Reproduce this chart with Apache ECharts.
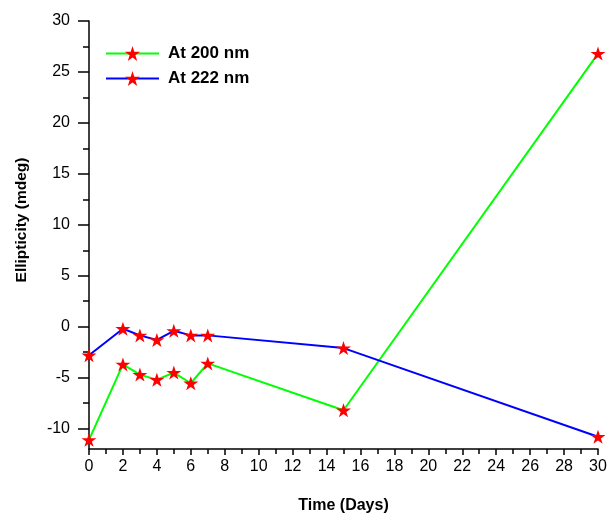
<!DOCTYPE html>
<html>
<head>
<meta charset="utf-8">
<script src="https://cdn.jsdelivr.net/npm/echarts@6/dist/echarts.min.js"></script>
<style>
  html, body { margin: 0; padding: 0; background: #fff; }
  #chart { width: 611px; height: 513px; }
</style>
</head>
<body>
<div id="chart"></div>
<script>
// 数据
const days = [0, 2, 3, 4, 5, 6, 7, 15, 30];
const at200 = [-11.1, -3.7, -4.7, -5.2, -4.5, -5.55, -3.6, -8.2, 26.8];
const at222 = [-2.8, -0.2, -0.85, -1.3, -0.4, -0.85, -0.85, -2.1, -10.8];
const yMajorTicks = [-10, -5, 0, 5, 10, 15, 20, 25, 30];
const yMinorTicks = [-7.5, -2.5, 2.5, 7.5, 12.5, 17.5, 22.5, 27.5];

const star = 'path://M100,0 L122.45,69.1 L195.1,69.1 L136.3,111.8 L158.8,180.9 L100,138.2 L41.2,180.9 L63.7,111.8 L4.9,69.1 L77.55,69.1 Z';
const font = 'Liberation Sans, Arial, sans-serif';

const pairs = (ys) => days.map((d, i) => [d, ys[i]]);

const myChart = echarts.init(document.getElementById('chart'));

const options = {
  animation: false,
  grid: { left: 89, right: 13, top: 21, bottom: 64, outerBoundsMode: 'none', containLabel: false },
  legend: {
    left: 100,
    top: 40,
    orient: 'vertical',
    itemWidth: 53,
    itemHeight: 19,
    itemGap: 8,
    textStyle: { fontFamily: font, fontSize: 17, fontWeight: 'bold', color: '#000', padding: [0, 0, 0, 4] },
    data: ['At 200 nm', 'At 222 nm'],
  },
  xAxis: {
    type: 'value',
    min: 0,
    max: 30,
    interval: 2,
    name: 'Time (Days)',
    nameLocation: 'middle',
    nameGap: 49,
    nameTextStyle: { fontFamily: font, fontSize: 16, fontWeight: 'bold', color: '#000', verticalAlign: 'top' },
    axisLine: { onZero: false, lineStyle: { color: '#000', width: 1.5 } },
    axisTick: { length: 6, lineStyle: { color: '#000', width: 1.5 } },
    minorTick: { show: true, splitNumber: 2, length: 5, lineStyle: { color: '#000', width: 1.5 } },
    axisLabel: { fontFamily: font, fontSize: 16, color: '#000', margin: 10 },
    splitLine: { show: false },
  },
  yAxis: [
    {
      type: 'value',
      position: 'left',
      min: -12,
      max: 30,
      name: 'Ellipticity (mdeg)',
      nameLocation: 'middle',
      nameGap: 59,
      nameTextStyle: { fontFamily: font, fontSize: 15.5, fontWeight: 'bold', color: '#000', padding: [0, 0, 0, 30] },
      axisLine: { show: true, lineStyle: { color: '#000', width: 1.5 } },
      axisTick: { show: true, customValues: yMajorTicks, length: 11, lineStyle: { color: '#000', width: 1.5 } },
      axisLabel: { customValues: yMajorTicks, fontFamily: font, fontSize: 16, color: '#000', margin: 19 },
      splitLine: { show: false },
    },
    {
      // 次刻度
      type: 'value',
      position: 'left',
      min: -12,
      max: 30,
      axisLine: { show: false },
      axisTick: { show: true, customValues: yMinorTicks, length: 6, lineStyle: { color: '#000', width: 1.5 } },
      axisLabel: { show: false },
      splitLine: { show: false },
    },
  ],
  series: [
    {
      name: 'At 200 nm',
      type: 'line',
      data: pairs(at200),
      symbol: star,
      symbolSize: [15, 14],
      lineStyle: { color: '#00ff00', width: 2 },
      itemStyle: { color: '#ff0000' },
      color: '#00ff00',
    },
    {
      name: 'At 222 nm',
      type: 'line',
      data: pairs(at222),
      symbol: star,
      symbolSize: [15, 14],
      lineStyle: { color: '#0000ff', width: 2 },
      itemStyle: { color: '#ff0000' },
      color: '#0000ff',
    },
  ],
};
myChart.setOption(options);
</script>
</body>
</html>
